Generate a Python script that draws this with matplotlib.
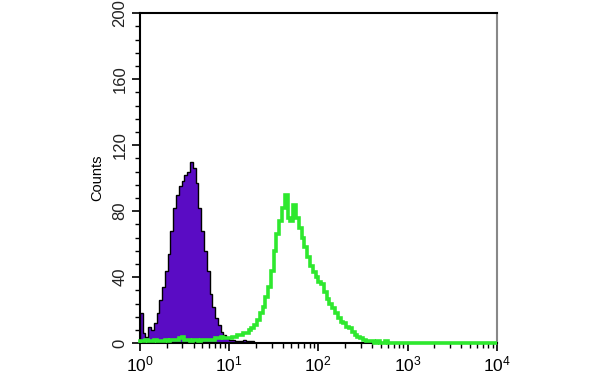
import numpy as np
import matplotlib
matplotlib.use("Agg")
import matplotlib.pyplot as plt
from matplotlib.ticker import LogLocator, MultipleLocator, NullFormatter

plt.rcParams["font.family"] = ["Liberation Sans", "DejaVu Sans"]
plt.rcParams["mathtext.fontset"] = "custom"
plt.rcParams["mathtext.rm"] = "Liberation Sans"

# ====== Datos ======
# canales: 32 por decada, desde 10^0 hasta 10^4
CH_PER_DECADE = 32
N_DECADES = 4

# control (isotipo), relleno violeta
control_counts = [
    18, 6, 4, 10, 8, 12, 18, 26, 34, 44,
    54, 68, 82, 90, 95, 98, 102, 104, 110, 106,
    97, 82, 68, 56, 44, 30, 22, 15, 11, 7,
    5, 3, 2, 2, 1, 1, 1, 2, 1, 1,
    1, 0,
]

# muestra, linea verde
sample_counts = [
    1, 1, 2, 1, 1, 2, 1, 1, 1, 2,
    1, 2, 2, 2, 3, 4, 2, 2, 1, 2,
    2, 1, 2, 2, 2, 2, 2, 3, 3, 4,
    3, 3, 3, 4, 4, 5, 5, 6, 6, 8,
    9, 11, 14, 18, 22, 28, 34, 44, 56, 66,
    74, 82, 90, 76, 74, 84, 76, 70, 64, 58,
    52, 47, 43, 40, 37, 36, 31, 27, 24, 21,
    18, 15, 13, 12, 10, 9, 7, 5, 4, 3,
    2, 1, 1, 1, 0, 1, 0, 0, 1, 0,
    0, 0, 0, 0, 0, 0, 0, 0, 0, 0,
    0, 0, 0, 0, 0, 0, 0, 0, 0, 0,
    0, 0, 0, 0, 0, 0, 0, 0, 0, 0,
    0, 0, 0, 0, 0, 0, 0, 0,
]

Y_MAJOR = [0, 40, 80, 120, 160, 200]

PURPLE = "#5a0cc4"
GREEN = "#2ee82e"


def edges_for(n):
    return 10 ** (np.arange(n + 1) / CH_PER_DECADE)


fig = plt.figure(figsize=(6, 3.75), dpi=100)
ax = fig.add_axes([0.233, 0.085, 0.595, 0.880])

e_ctrl = edges_for(len(control_counts))
ax.stairs(control_counts, e_ctrl, fill=True, color=PURPLE, zorder=2)
ax.stairs(control_counts, e_ctrl, color="black", lw=1.0, zorder=3)

e_samp = edges_for(len(sample_counts))
ax.stairs(sample_counts, e_samp, color=GREEN, lw=2.6, zorder=4, clip_on=False)

ax.set_xscale("log")
ax.set_xlim(1, 10 ** N_DECADES)
ax.set_ylim(0, 200)

ax.xaxis.set_major_locator(LogLocator(base=10, numticks=10))
ax.xaxis.set_minor_locator(LogLocator(base=10, subs=np.arange(2, 10), numticks=10))
ax.xaxis.set_minor_formatter(NullFormatter())
ax.set_yticks(Y_MAJOR)
ax.yaxis.set_minor_locator(MultipleLocator(8))

ax.tick_params(axis="both", which="major", direction="out", length=6, width=1.2,
               labelsize=12.5, color="black")
ax.tick_params(axis="both", which="minor", direction="out", length=3.5, width=1.0)
ax.tick_params(axis="y", labelrotation=90, pad=3, labelsize=12)
ax.tick_params(axis="x", pad=2)
for lbl in ax.get_yticklabels():
    lbl.set_va("center")
    lbl.set_color("#222222")

ax.set_ylabel("Counts", fontsize=10.5, labelpad=6)

for side in ["left", "bottom", "top"]:
    ax.spines[side].set_linewidth(1.5)
    ax.spines[side].set_color("black")
ax.spines["right"].set_color("#888888")
ax.spines["right"].set_linewidth(1.5)

fig.savefig("out.png", dpi=100)
